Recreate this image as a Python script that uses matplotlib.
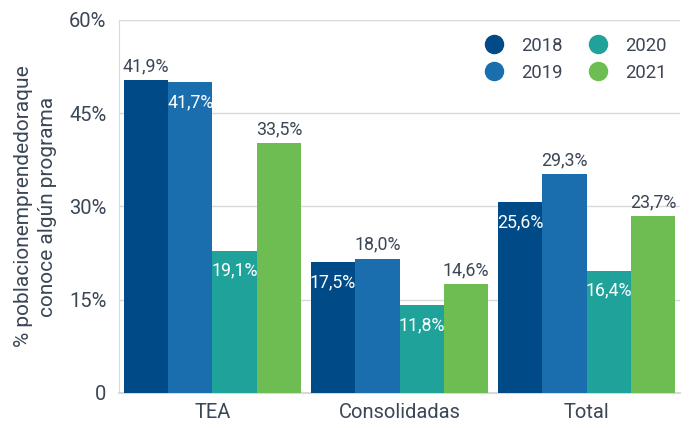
import matplotlib
matplotlib.use("Agg")
import matplotlib.pyplot as plt
import numpy as np
from matplotlib.lines import Line2D

categories = ["TEA", "Consolidadas", "Total"]
years = ["2018", "2019", "2020", "2021"]
values = {
    "2018": [41.9, 17.5, 25.6],
    "2019": [41.7, 18.0, 29.3],
    "2020": [19.1, 11.8, 16.4],
    "2021": [33.5, 14.6, 23.7],
}
# whether each value label sits inside the bar (True) or above it (False)
inside = {
    "2018": [False, True, True],
    "2019": [True, False, False],
    "2020": [True, True, True],
    "2021": [False, False, False],
}
tick_vals = [0, 12.5, 25, 37.5, 50]
tick_labels = ["0", "15%", "30%", "45%", "60%"]
colors = ["#004b87", "#1a6ead", "#1fa29a", "#6dbd52"]
text_color = "#3b4656"

plt.rcParams["font.family"] = ["Roboto", "DejaVu Sans"]

fig = plt.figure(figsize=(6.89, 4.28), dpi=100)
ax = fig.add_axes([0.1727, 0.0818, 0.987 - 0.1727, 0.9533 - 0.0818])

x = np.arange(len(categories))
w = 0.237
for i, yr in enumerate(years):
    xs = x + (i - 1.5) * w
    ax.bar(xs, values[yr], width=w, color=colors[i], zorder=3)
    for xx, v, ins in zip(xs, values[yr], inside[yr]):
        lbl = f"{v:.1f}%".replace(".", ",")
        if ins:
            ax.annotate(lbl, (xx, v), xytext=(0, -14.5), textcoords="offset points",
                        ha="center", va="center", color="white", fontsize=12.8, zorder=4)
        else:
            ax.annotate(lbl, (xx, v), xytext=(0, 10), textcoords="offset points",
                        ha="center", va="center", color=text_color, fontsize=12.8, zorder=4)

ax.set_xlim(-0.5, 2.5)
ax.set_ylim(0, 50)
ax.set_yticks(tick_vals)
ax.set_yticklabels(tick_labels)
ax.set_xticks(x)
ax.set_xticklabels(categories)
ax.tick_params(axis="both", colors=text_color, labelsize=14.5, length=0)
ax.tick_params(axis="y", pad=9)
ax.tick_params(axis="x", pad=7)
ax.grid(axis="y", color="#d9d9d9", linewidth=1, zorder=0)
for s in ["top", "right"]:
    ax.spines[s].set_visible(False)
ax.spines["left"].set_color("#d9d9d9")
ax.spines["bottom"].set_color("#d9d9d9")
ax.spines["bottom"].set_linewidth(1.5)

ax.set_ylabel("% poblacionemprendedoraque\nconoce algún programa", color=text_color,
              fontsize=15, labelpad=9, linespacing=1.3)

handles = [Line2D([0], [0], marker="o", linestyle="", markersize=13,
                  markerfacecolor=c, markeredgecolor=c) for c in colors]
leg = ax.legend(handles, years, ncol=2, loc="upper right", frameon=False,
                fontsize=13.3, labelcolor=text_color, handletextpad=0.45,
                columnspacing=0.95, bbox_to_anchor=(1.006, 1.0), labelspacing=0.5)

fig.savefig("out.png", dpi=100)
